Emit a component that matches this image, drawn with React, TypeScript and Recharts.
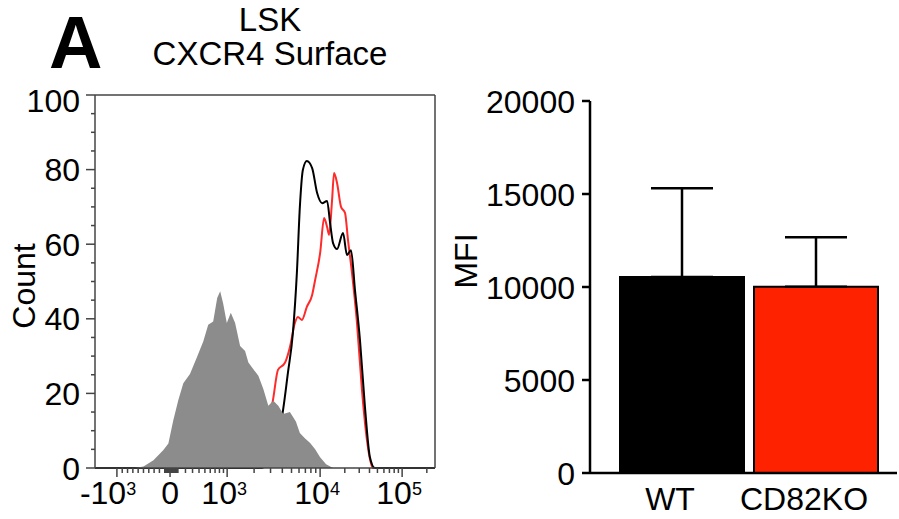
import React from 'react';
import {
  ComposedChart,
  Area,
  XAxis,
  YAxis,
  ReferenceLine,
  BarChart,
  Bar,
  Cell,
  ErrorBar,
} from 'recharts';

const FONT = '"Liberation Sans", Arial, Helvetica, sans-serif';

// ---------- Histogram (x in logicle channel units 0–1024, y = count) ----------
const isotypeChannels = [120, 146, 176, 206, 221, 236, 251, 266, 286, 306, 326, 341, 356, 368, 377, 386, 397, 409, 422, 437, 452, 462, 477, 492, 507, 522, 537, 552, 567, 587, 605, 617, 632, 648, 663, 678, 696, 717];
const isotypeCounts = [0, 0.4, 2.1, 4.8, 6.6, 12.9, 18.2, 22.7, 25.2, 29.5, 33.9, 38.4, 39.3, 45.6, 47.4, 44.1, 38.9, 41.6, 38.9, 32.7, 31.4, 28.3, 26.5, 24.7, 21.2, 16.7, 18, 16.7, 14.5, 15, 12.5, 9.4, 8, 6.7, 5, 2.9, 1, 0];

const wtChannels = [0, 503, 527, 545, 563, 581, 596, 608, 617, 626, 638, 654, 669, 684, 699, 708, 717, 729, 747, 759, 771, 783, 798, 813, 828, 843, 1024];
const wtCounts = [0, 0, 3, 8, 13.7, 25.5, 36.2, 52.3, 70, 79.9, 82.3, 80.4, 73.7, 71, 71.6, 65.7, 60.3, 58.7, 63, 57.1, 58.4, 47.7, 34.3, 16.4, 2.9, 0, 0];

const koChannels = [0, 482, 503, 521, 536, 551, 572, 587, 602, 611, 623, 638, 654, 663, 678, 690, 699, 705, 714, 720, 729, 741, 753, 762, 774, 789, 804, 819, 837, 1024];
const koCounts = [0, 0, 5, 12, 18.2, 26.3, 28.2, 32.4, 38.9, 40.5, 39.7, 43.2, 46.4, 50.4, 57.6, 67, 64.6, 62.5, 71.8, 79.1, 76.4, 70, 68.4, 61.1, 52.3, 38.9, 20.9, 7.5, 0, 0];

const countTicks = [0, 5, 10, 15, 20, 25, 30, 35, 40, 45, 50, 55, 60, 65, 70, 75, 80, 85, 90, 95, 100];

const xMajorValues = [-1000, 0, 1000, 10000, 100000];
const xMajorBase = ['-10', '0', '10', '10', '10'];
const xMajorExp = ['3', '', '3', '4', '5'];
const xMinorValues = [
  -900, -800, -700, -600, -500, -400, -300, -200, -100,
  -90, -80, -70, -60, -50, -40, -30, -20, -10,
  10, 20, 30, 40, 50, 60, 70, 80, 90,
  100, 200, 300, 400, 500, 600, 700, 800, 900,
  2000, 3000, 4000, 5000, 6000, 7000, 8000, 9000,
  20000, 30000, 40000, 50000, 60000, 70000, 80000, 90000,
  200000,
];

// ---------- Bar chart ----------
const groups = ['WT', 'CD82KO'];
const mfiMeans = [10540, 10020];
const mfiSD = [4770, 2650];
const mfiTicks = [0, 5000, 10000, 15000, 20000];
const barColors = ['#000000', '#ff2200'];

// logicle-like display transform (value -> channel)
const ANCHORS: [number, number][] = [
  [0, 226],
  [Math.asinh(2), 398],
  [Math.asinh(20), 678],
  [Math.asinh(200), 925],
];
function toChannel(v: number): number {
  if (v <= 0) return 226 + (v / 1000) * 160;
  const a = Math.asinh(v / 500);
  for (let i = 1; i < ANCHORS.length; i++) {
    if (a <= ANCHORS[i][0]) {
      const [a0, c0] = ANCHORS[i - 1];
      const [a1, c1] = ANCHORS[i];
      return c0 + ((a - a0) / (a1 - a0)) * (c1 - c0);
    }
  }
  const [a0, c0] = ANCHORS[ANCHORS.length - 2];
  const [a1, c1] = ANCHORS[ANCHORS.length - 1];
  return c1 + ((a - a1) / (a1 - a0)) * (c1 - c0);
}

const isoData = isotypeChannels.map((ch, i) => ({ ch, count: isotypeCounts[i] }));
const wtData = wtChannels.map((ch, i) => ({ ch, count: wtCounts[i] }));
const koData = koChannels.map((ch, i) => ({ ch, count: koCounts[i] }));

const majorMap = new Map<number, number>();
xMajorValues.forEach((v, i) => majorMap.set(toChannel(v), i));
const xTicks = [...xMajorValues, ...xMinorValues].map(toChannel).sort((a, b) => a - b);

const barData = groups.map((g, i) => ({ name: g, mfi: mfiMeans[i], err: [0, mfiSD[i]] }));

const AXIS_GRAY = '#444';

const CountTick = (props: any) => {
  const { x, y, payload } = props;
  const v = payload.value;
  const major = v % 20 === 0;
  return (
    <g>
      <line x1={x - (major ? 9 : 4)} x2={x} y1={y} y2={y} stroke={AXIS_GRAY} strokeWidth={1.5} />
      {major && (
        <text x={x - 15} y={y + (v === 100 ? 17 : 11.5)} textAnchor="end" fontSize={32} fontFamily={FONT} fill="#000">
          {v}
        </text>
      )}
    </g>
  );
};

const HistXTick = (props: any) => {
  const { x, y, payload } = props;
  const idx = majorMap.get(payload.value);
  const major = idx !== undefined;
  return (
    <g>
      <line x1={x} x2={x} y1={y} y2={y + (major ? 9 : 5)} stroke={AXIS_GRAY} strokeWidth={1.5} />
      {major && xMajorBase[idx!] === '0' && (
        <text x={x} y={y + 36} textAnchor="middle" fontSize={32} fontFamily={FONT} fill="#000">0</text>
      )}
      {major && xMajorBase[idx!] === '10' && (
        <text x={x - 3} y={y + 36} textAnchor="middle" fontSize={32} fontFamily={FONT} fill="#000">
          <tspan>10</tspan>
          <tspan fontSize={18} dy={-9}>{xMajorExp[idx!]}</tspan>
        </text>
      )}
      {major && xMajorBase[idx!] === '-10' && (
        <text x={x - 37} y={y + 36} textAnchor="start" fontSize={32} fontFamily={FONT} fill="#000">
          <tspan>-10</tspan>
          <tspan fontSize={18} dy={-9}>{xMajorExp[idx!]}</tspan>
        </text>
      )}
    </g>
  );
};

const MfiTick = (props: any) => {
  const { x, y, payload } = props;
  return (
    <g>
      <line x1={x - 8} x2={x} y1={y} y2={y} stroke="#000" strokeWidth={2.5} />
      <text x={x - 15} y={y + 11.5} textAnchor="end" fontSize={32} fontFamily={FONT} fill="#000">
        {payload.value}
      </text>
    </g>
  );
};

const GroupTick = (props: any) => {
  const { x, y, payload } = props;
  return (
    <text x={x - 12} y={y + 37} textAnchor="middle" fontSize={32} fontFamily={FONT} fill="#000">
      {payload.value}
    </text>
  );
};

export default function App() {
  return (
    <div style={{ position: 'absolute', left: 0, top: 0, width: 899, height: 519, background: '#fff', overflow: 'hidden' }}>
      <div style={{ position: 'absolute', left: 0, top: 0 }}>
        <ComposedChart width={450} height={519} margin={{ top: 95, right: 15, bottom: 0, left: 0 }}>
          <XAxis
            type="number"
            dataKey="ch"
            domain={[0, 1024]}
            ticks={xTicks}
            interval={0}
            allowDataOverflow
            height={51}
            tickSize={0}
            tickMargin={0}
            tickLine={false}
            axisLine={{ stroke: AXIS_GRAY, strokeWidth: 1.5 }}
            tick={<HistXTick />}
          />
          <YAxis
            type="number"
            domain={[0, 100]}
            ticks={countTicks}
            interval={0}
            width={95}
            tickSize={0}
            tickMargin={0}
            tickLine={false}
            axisLine={{ stroke: AXIS_GRAY, strokeWidth: 1.5 }}
            tick={<CountTick />}
          />
          <ReferenceLine y={100} stroke={AXIS_GRAY} strokeWidth={1.5} />
          <ReferenceLine x={1024} stroke={AXIS_GRAY} strokeWidth={1.5} />
          <Area data={koData} dataKey="count" type="monotone" stroke="#ff2a2a" strokeWidth={2} fill="none" fillOpacity={0} dot={false} activeDot={false} isAnimationActive={false} />
          <Area data={wtData} dataKey="count" type="monotone" stroke="#000" strokeWidth={2} fill="none" fillOpacity={0} dot={false} activeDot={false} isAnimationActive={false} />
          <Area data={isoData} dataKey="count" type="linear" fill="#8c8c8c" fillOpacity={1} stroke="none" isAnimationActive={false} />
        </ComposedChart>
      </div>
      <div style={{ position: 'absolute', left: 450, top: 0 }}>
        <BarChart width={449} height={519} data={barData} margin={{ top: 101, right: 2, bottom: 0, left: 0 }}>
          <XAxis
            dataKey="name"
            height={46}
            padding={{ left: 25, right: 14 }}
            tickSize={0}
            tickMargin={0}
            tickLine={false}
            axisLine={{ stroke: '#000', strokeWidth: 2.5 }}
            tick={<GroupTick />}
          />
          <YAxis
            type="number"
            domain={[0, 20000]}
            ticks={mfiTicks}
            interval={0}
            width={140}
            tickSize={0}
            tickMargin={0}
            tickLine={false}
            axisLine={{ stroke: '#000', strokeWidth: 2.5 }}
            tick={<MfiTick />}
          />
          <Bar dataKey="mfi" barSize={124} stroke="#000" strokeWidth={2} isAnimationActive={false}>
            {barData.map((d, i) => (
              <Cell key={d.name} fill={barColors[i]} />
            ))}
            <ErrorBar dataKey="err" width={31} stroke="#000" strokeWidth={2.5} direction="y" />
          </Bar>
        </BarChart>
      </div>
      <svg width={899} height={519} style={{ position: 'absolute', left: 0, top: 0, pointerEvents: 'none' }}>
        <text x={49} y={68} fontSize={74} fontWeight="bold" fontFamily={FONT} fill="#000">A</text>
        <text x={270} y={31} fontSize={33} textAnchor="middle" fontFamily={FONT} fill="#000">LSK</text>
        <text x={270} y={65} fontSize={33} textAnchor="middle" fontFamily={FONT} fill="#000">CXCR4 Surface</text>
        <text x={35} y={286} transform="rotate(-90, 35, 286)" fontSize={32} textAnchor="middle" fontFamily={FONT} fill="#000">Count</text>
        <text x={477} y={261} transform="rotate(-90, 477, 261)" fontSize={32} textAnchor="middle" fontFamily={FONT} fill="#000">MFI</text>
      </svg>
    </div>
  );
}
